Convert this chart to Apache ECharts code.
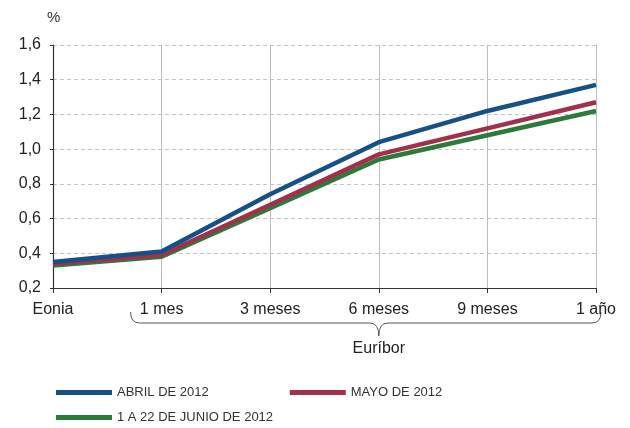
<!DOCTYPE html>
<html><head><meta charset="utf-8">
<script src="https://cdn.jsdelivr.net/npm/echarts@6/dist/echarts.min.js"></script>
<style>html,body{margin:0;padding:0;background:#fff}#c{width:630px;height:428px}</style>
</head><body><div id="c"></div>
<script>
const categories = ['Eonia', '1 mes', '3 meses', '6 meses', '9 meses', '1 año'];
const abril = [0.35, 0.41, 0.74, 1.04, 1.22, 1.37];
const mayo = [0.34, 0.39, 0.68, 0.97, 1.12, 1.27];
const junio = [0.33, 0.38, 0.66, 0.94, 1.08, 1.22];
const seriesNames = ['ABRIL DE 2012', 'MAYO DE 2012', '1 A 22 DE JUNIO DE 2012'];
const colors = ['#165088', '#a3304a', '#2c7a3c'];
const yMin = 0.2, yMax = 1.6, yStep = 0.2;

const chart = echarts.init(document.getElementById('c'));
const font = 'Liberation Sans, Arial, sans-serif';
const legendFont = '"Liberation Sans Narrow", "Arial Narrow", sans-serif';
const mk = (name, data, color) => ({
  name, type: 'line', data, symbol: 'none', color,
  lineStyle: { width: 4.5, color }, z: 3
});
const option = {
  animation: false,
  grid: { left: 53, right: 34, top: 45, bottom: 140, containLabel: false },
  legend: [
    { data: [seriesNames[0], seriesNames[1]], left: 51, top: 381, itemWidth: 56, itemHeight: 5, itemGap: 81, icon: 'rect',
      textStyle: { fontFamily: legendFont, fontSize: 13, color: '#333' } },
    { data: [seriesNames[2]], left: 51, top: 406, itemWidth: 56, itemHeight: 5, icon: 'rect',
      textStyle: { fontFamily: legendFont, fontSize: 13, color: '#333' } }
  ],
  xAxis: {
    type: 'category', data: categories, boundaryGap: false,
    axisLine: { lineStyle: { color: '#333', width: 1.2 } },
    axisTick: { show: true, length: 5, lineStyle: { color: '#333' } },
    axisLabel: { fontFamily: font, fontSize: 16, color: '#222', margin: 14 },
    splitLine: { show: true, lineStyle: { color: '#bdbdbd', width: 1 } }
  },
  yAxis: {
    type: 'value', min: yMin, max: yMax, interval: yStep,
    name: '%', nameLocation: 'end', nameGap: 20,
    nameTextStyle: { fontFamily: font, fontSize: 15, color: '#333', align: 'left', padding: [0, 0, 0, -6] },
    axisLine: { show: true, lineStyle: { color: '#333', width: 1.2 } },
    axisTick: { show: true, length: 3, lineStyle: { color: '#333' } },
    axisLabel: { fontFamily: font, fontSize: 16, color: '#222', margin: 12,
      formatter: v => v.toFixed(1).replace('.', ',') },
    splitLine: { show: true, lineStyle: { color: '#c4c4c4', type: [4, 3], width: 1 } }
  },
  series: [mk(seriesNames[2], junio, colors[2]), mk(seriesNames[1], mayo, colors[1]), mk(seriesNames[0], abril, colors[0])]
};
chart.setOption(option);

const xL = chart.convertToPixel({ xAxisIndex: 0 }, categories[1]) - 31;
const xR = chart.convertToPixel({ xAxisIndex: 0 }, categories[5]) + 5;
const xM = chart.convertToPixel({ xAxisIndex: 0 }, categories[3]);
const y0 = 312, y1 = 323, y2 = 336;
const st = { stroke: '#555', lineWidth: 1, fill: null };
chart.setOption({
  graphic: [
    { type: 'bezierCurve', shape: { x1: xL, y1: y0, cpx1: xL, cpy1: y1, x2: xL + 9, y2: y1 }, style: st },
    { type: 'line', shape: { x1: xL + 9, y1: y1, x2: xM - 9, y2: y1 }, style: st },
    { type: 'bezierCurve', shape: { x1: xM - 9, y1: y1, cpx1: xM, cpy1: y1, x2: xM, y2: y2 }, style: st },
    { type: 'bezierCurve', shape: { x1: xM + 9, y1: y1, cpx1: xM, cpy1: y1, x2: xM, y2: y2 }, style: st },
    { type: 'line', shape: { x1: xM + 9, y1: y1, x2: xR - 9, y2: y1 }, style: st },
    { type: 'bezierCurve', shape: { x1: xR, y1: y0, cpx1: xR, cpy1: y1, x2: xR - 9, y2: y1 }, style: st },
    { type: 'text', x: xM, y: 349, style: { text: 'Euríbor', font: '16px ' + font, fill: '#222', align: 'center', verticalAlign: 'middle' } }
  ]
});
</script></body></html>
